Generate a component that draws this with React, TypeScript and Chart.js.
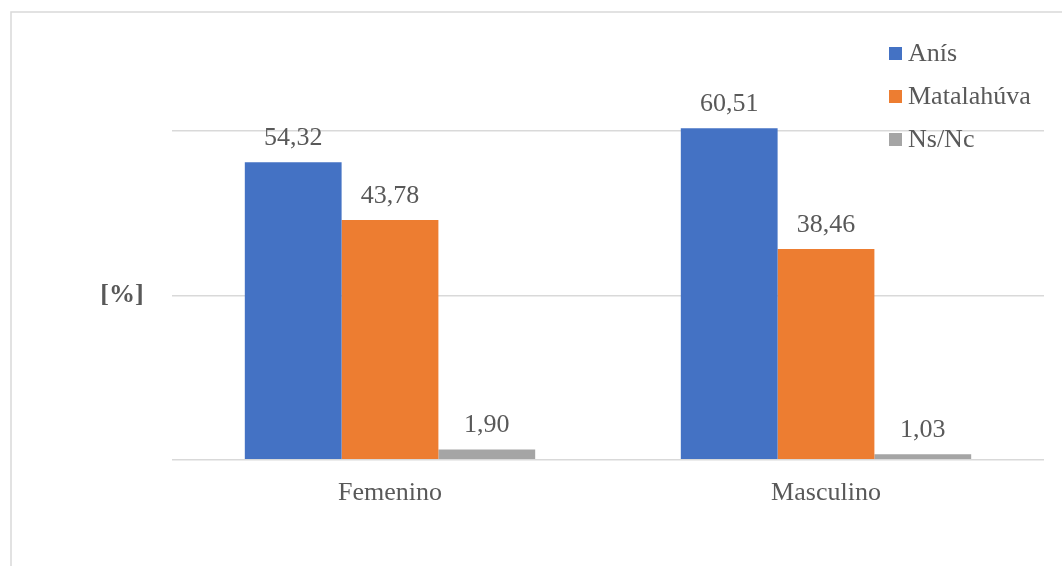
import React, { useEffect, useRef } from "react";
import { Chart, registerables } from "chart.js";

Chart.register(...registerables);

const categories = ["Femenino", "Masculino"];
const seriesNames = ["Anís", "Matalahúva", "Ns/Nc"];
const anis = [54.32, 60.51];
const matalahuva = [43.78, 38.46];
const nsnc = [1.9, 1.03];
const yTicks = [0, 30, 60];
const yAxisTitle = "[%]";

const colors = ["#4472C4", "#ED7D31", "#A5A5A5"];
const textColor = "#595959";
const gridColor = "#D9D9D9";
const FONT = "'Liberation Serif', 'Times New Roman', serif";

const framePlugin = {
  id: "frame",
  beforeDraw(chart: any) {
    const { ctx } = chart;
    ctx.save();
    ctx.fillStyle = "#ffffff";
    ctx.fillRect(0, 0, chart.width, chart.height);
    ctx.strokeStyle = gridColor;
    ctx.lineWidth = 1.5;
    ctx.strokeRect(11, 12, chart.width + 20, chart.height + 20);
    ctx.restore();
  },
};

const labelsPlugin = {
  id: "valueLabels",
  afterDatasetsDraw(chart: any) {
    const { ctx } = chart;
    ctx.save();
    ctx.font = `26px ${FONT}`;
    ctx.fillStyle = textColor;
    ctx.textAlign = "center";
    ctx.textBaseline = "alphabetic";
    chart.data.datasets.forEach((ds: any, i: number) => {
      const meta = chart.getDatasetMeta(i);
      meta.data.forEach((el: any, j: number) => {
        const v = ds.data[j] as number;
        ctx.fillText(v.toFixed(2).replace(".", ","), el.x, el.y - 17);
      });
    });
    // y axis title
    const area = chart.chartArea;
    ctx.font = `bold 26px ${FONT}`;
    ctx.textBaseline = "middle";
    ctx.fillText(yAxisTitle, 122, (area.top + area.bottom) / 2);
    // legend
    ctx.font = `26px ${FONT}`;
    ctx.textAlign = "left";
    chart.data.datasets.forEach((ds: any, i: number) => {
      const cy = 53.5 + i * 43;
      ctx.fillStyle = ds.backgroundColor;
      ctx.fillRect(889, cy - 6.5, 13, 13);
      ctx.fillStyle = textColor;
      ctx.fillText(ds.label, 908, cy + 1);
    });
    ctx.restore();
  },
};

export default function App() {
  const ref = useRef<HTMLCanvasElement | null>(null);
  useEffect(() => {
    if (!ref.current) return;
    const chart = new Chart(ref.current, {
      type: "bar",
      data: {
        labels: categories,
        datasets: [anis, matalahuva, nsnc].map((d, i) => ({
          label: seriesNames[i],
          data: d,
          backgroundColor: colors[i],
          borderWidth: 0,
          categoryPercentage: 0.666,
          barPercentage: 1,
          clip: false as any,
        })),
      },
      options: {
        animation: false,
        responsive: true,
        maintainAspectRatio: false,
        layout: { padding: { left: 172, right: 18, top: 131, bottom: 39 } },
        plugins: { legend: { display: false }, tooltip: { enabled: false } },
        scales: {
          x: {
            grid: { display: false, drawTicks: false, tickLength: 0 },
            border: { display: false },
            ticks: { color: textColor, font: { family: FONT, size: 26 }, padding: 18 },
          },
          y: {
            min: 0,
            max: 60,
            afterBuildTicks: (axis: any) => {
              axis.ticks = yTicks.map((v) => ({ value: v }));
            },
            grid: { color: gridColor, lineWidth: 1.5, drawTicks: false, tickLength: 0 },
            border: { display: false },
            ticks: { display: false },
          },
        },
      },
      plugins: [framePlugin, labelsPlugin],
    });
    return () => chart.destroy();
  }, []);
  return (
    <div style={{ position: "fixed", left: 0, top: 0, width: 1062, height: 566, background: "#fff" }}>
      <canvas ref={ref} />
    </div>
  );
}
